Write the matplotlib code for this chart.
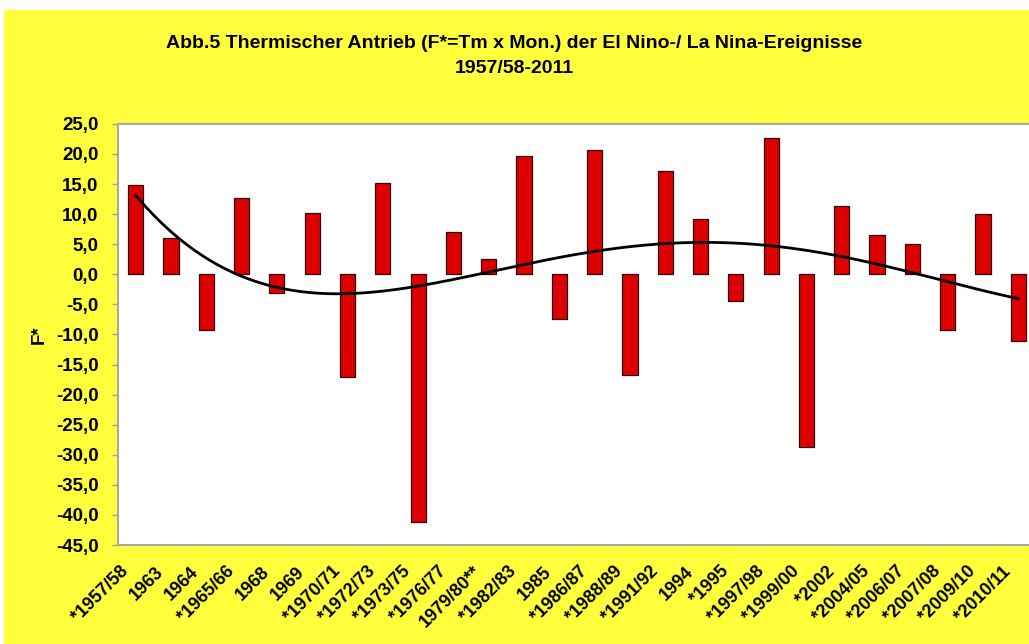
import matplotlib.pyplot as plt
import numpy as np
from matplotlib.patches import Rectangle

# event labels and thermal forcing F*
labels = ['*1957/58', '1963', '1964', '*1965/66', '1968', '1969', '*1970/71', '*1972/73',
          '*1973/75', '*1976/77', '1979/80**', '*1982/83', '1985', '*1986/87', '*1988/89',
          '*1991/92', '1994', '*1995', '*1997/98', '*1999/00', '*2002', '*2004/05',
          '*2006/07', '*2007/08', '*2009/10', '*2010/11']
f_star = [14.9, 6.1, -9.3, 12.7, -3.1, 10.2, -17.1, 15.1, -41.1, 7.0, 2.6, 19.6, -7.4,
          20.7, -16.7, 17.1, 9.2, -4.4, 22.7, -28.7, 11.4, 6.6, 5.1, -9.3, 10.0, -11.1]
y_ticks = np.arange(-45, 26, 5)

plt.rcParams['font.family'] = ['Liberation Sans', 'DejaVu Sans']
plt.rcParams['font.weight'] = 'bold'

fig = plt.figure(figsize=(10.29, 6.44), dpi=100, facecolor='white')
# yellow chart area (white strip at top and left like the screenshot)
fig.patches.append(Rectangle((0.004, 0), 1.0, 0.984, transform=fig.transFigure,
                             facecolor='#ffff3c', edgecolor='none', zorder=-10))

ax = fig.add_axes([0.1147, 0.1537, 0.892, 0.654])
ax.set_facecolor('white')
x = np.arange(len(f_star))
ax.bar(x, f_star, width=0.43, color='#dd0000', edgecolor='#300000', linewidth=0.9, zorder=2)

# polynomial trend line (4th order, as in the spreadsheet)
xs = np.linspace(0, len(f_star) - 1, 300)
trend = np.polyval(np.polyfit(x, f_star, 4), xs)
ax.plot(xs, trend, color='black', lw=2.0, zorder=3)

ax.set_xlim(-0.5, len(f_star) - 0.5)
ax.set_ylim(-45, 25)
ax.set_yticks(y_ticks)
ax.set_yticklabels([f'{v:.1f}'.replace('.', ',') for v in y_ticks], fontsize=13.5, fontweight='bold')
# category labels sit a little left of each bar, like in the original
ax.set_xticks(x - 0.45)
ax.set_xticklabels(labels, rotation=45, ha='right', rotation_mode='anchor', fontsize=13,
                   fontweight='bold')
ax.tick_params(axis='x', length=0, pad=13)
ax.tick_params(axis='y', length=4, width=1, color='#a0a0a0', pad=10)
for s in ax.spines.values():
    s.set_color('#a8a8a8')
    s.set_linewidth(1.5)

ax.set_ylabel('F*', fontsize=13.5, fontweight='bold', labelpad=6)

fig.text(0.5, 0.933, 'Abb.5 Thermischer Antrieb (F*=Tm x Mon.) der El Nino-/ La Nina-Ereignisse',
         ha='center', va='center', fontsize=14, fontweight='bold')
fig.text(0.5, 0.893, '1957/58-2011', ha='center', va='center', fontsize=14, fontweight='bold')

plt.savefig('out.png', dpi=100, facecolor=fig.get_facecolor())
